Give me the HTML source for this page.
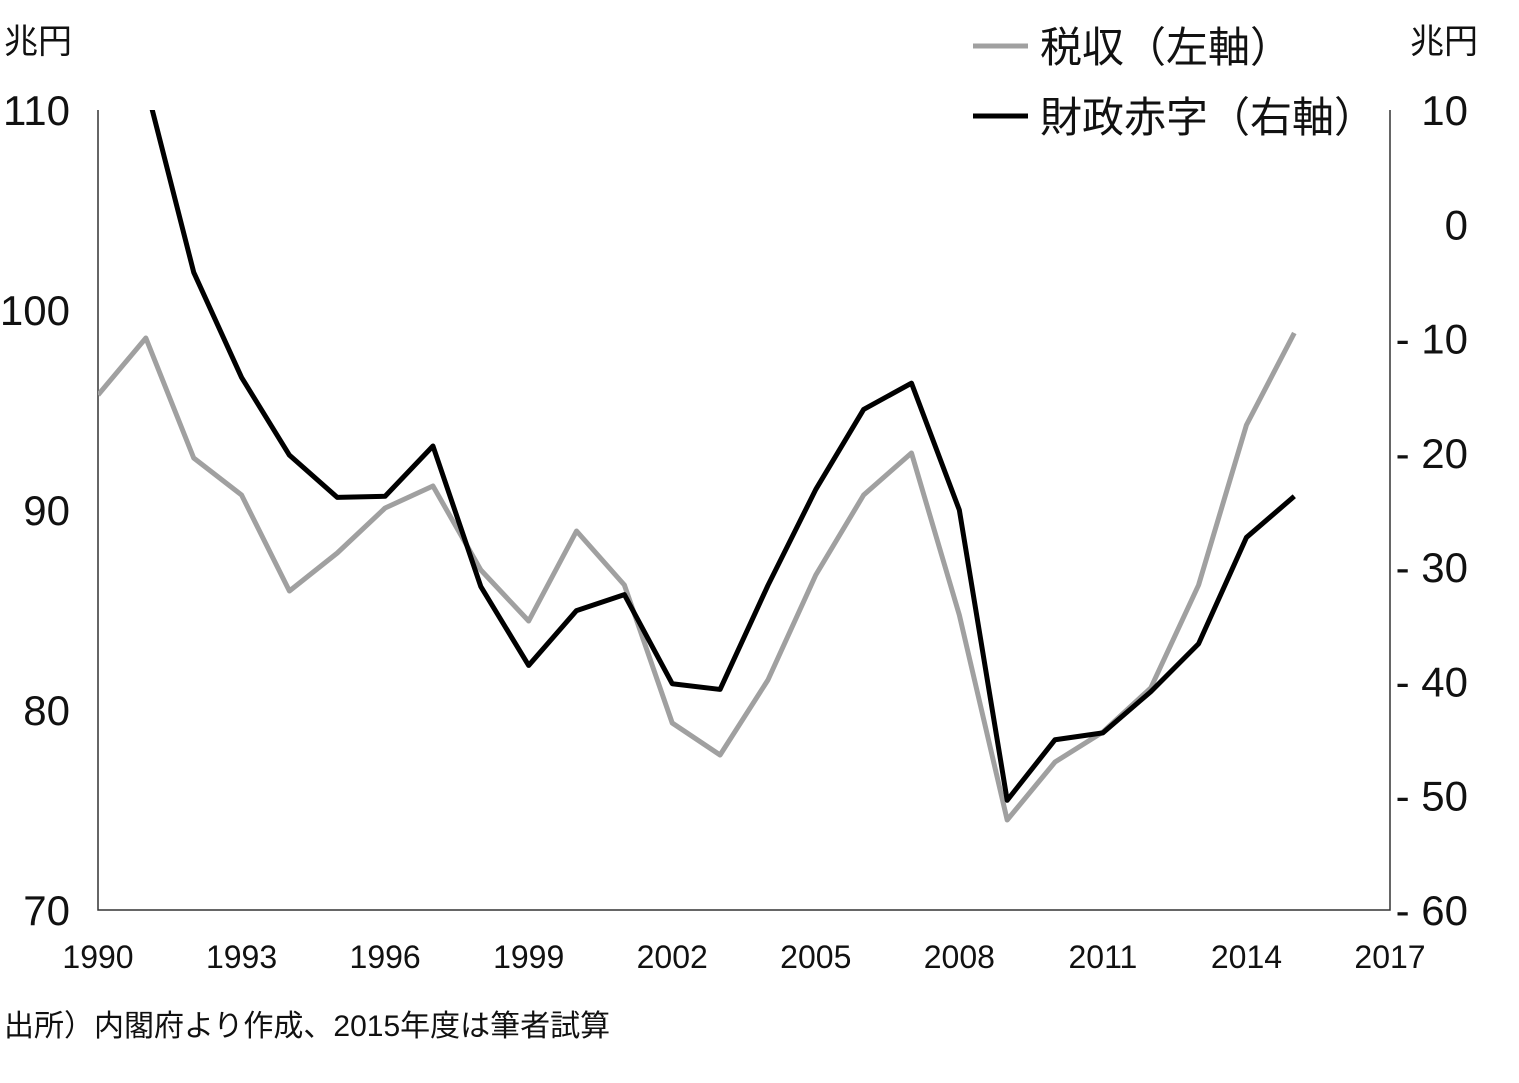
<!DOCTYPE html>
<html><head><meta charset="utf-8"><style>
html,body{margin:0;padding:0;background:#fff;}
svg{display:block;font-family:"Liberation Sans","Noto Sans CJK JP",sans-serif;}
</style></head><body>
<svg id="chart" width="1519" height="1083" viewBox="0 0 1519 1083">
<g id="axes"></g><g id="series"></g>
<text x="4" y="53" font-size="34" fill="#111">兆円</text>
<text x="1410" y="53" font-size="34" fill="#111">兆円</text>
<g>
<line x1="973" y1="46" x2="1028" y2="46" stroke="#a0a0a0" stroke-width="5"/>
<text x="1040" y="62" font-size="42" fill="#111">税収（左軸）</text>
<line x1="973" y1="116" x2="1028" y2="116" stroke="#000" stroke-width="5"/>
<text x="1040" y="132" font-size="42" fill="#111">財政赤字（右軸）</text>
</g>
<text x="4" y="1036" font-size="30" fill="#111">出所）内閣府より作成、2015年度は筆者試算</text>
</svg>
<script>
const years=[1990,1991,1992,1993,1994,1995,1996,1997,1998,1999,2000,2001,2002,2003,2004,2005,2006,2007,2008,2009,2010,2011,2012,2013,2014,2015];
const taxRevenue=[95.75,98.6,92.6,90.75,85.95,87.85,90.1,91.2,87,84.45,88.95,86.25,79.35,77.75,81.5,86.75,90.75,92.85,84.75,74.5,77.4,78.9,81.1,86.25,94.25,98.85];
const deficitYears=[1991,1992,1993,1994,1995,1996,1997,1998,1999,2000,2001,2002,2003,2004,2005,2006,2007,2008,2009,2010,2011,2012,2013,2014,2015];
const deficit=[12.2,-4.2,-13.4,-20.2,-23.9,-23.8,-19.4,-31.7,-38.6,-33.8,-32.4,-40.2,-40.7,-31.6,-23.2,-16.2,-13.9,-25,-50.4,-45.1,-44.5,-40.9,-36.7,-27.4,-23.8];
const leftTicks=[70,80,90,100,110];
const rightTicks=[10,0,-10,-20,-30,-40,-50,-60];
const xTicks=[1990,1993,1996,1999,2002,2005,2008,2011,2014,2017];
const X0=98,X1=1390,Y0=110,Y1=910;
const xs=y=>X0+(y-1990)/(2017-1990)*(X1-X0);
const yl=v=>Y0+(110-v)/(110-70)*(Y1-Y0);
const yr=v=>Y0+(10-v)/(10+60)*(Y1-Y0);
const NS="http://www.w3.org/2000/svg";
const axes=document.getElementById('axes'),series=document.getElementById('series');
function mk(tag,attrs,parent){const e=document.createElementNS(NS,tag);for(const k in attrs)e.setAttribute(k,attrs[k]);parent.appendChild(e);return e;}
let e;
e=mk('path',{d:`M${X0},${Y0}V${Y1}H${X1}V${Y0}`,fill:'none',stroke:'#333','stroke-width':1.5},axes);


leftTicks.forEach(v=>{const t=mk('text',{x:70,y:yl(v)+15,'font-size':42,'text-anchor':'end',fill:'#111'},axes);t.textContent=v;

});
rightTicks.forEach(v=>{const t=mk('text',{x:1468,y:yr(v)+15,'font-size':42,'text-anchor':'end',fill:'#111'},axes);t.textContent=v<0?'- '+(-v):v;

});
xTicks.forEach(v=>{const t=mk('text',{x:xs(v),y:968,'font-size':32,'text-anchor':'middle',fill:'#111'},axes);t.textContent=v;

});
const cp=mk('clipPath',{id:'clip'},series);mk('rect',{x:X0,y:Y0,width:X1-X0,height:Y1-Y0},cp);
e=mk('polyline',{points:years.map((y,i)=>xs(y)+','+yl(taxRevenue[i])).join(' '),fill:'none',stroke:'#a0a0a0','stroke-width':5,'stroke-linejoin':'round','clip-path':'url(#clip)'},series);


e=mk('polyline',{points:deficitYears.map((y,i)=>xs(y)+','+yr(deficit[i])).join(' '),fill:'none',stroke:'#000','stroke-width':5,'stroke-linejoin':'round','clip-path':'url(#clip)'},series);


</script>
</body></html>
